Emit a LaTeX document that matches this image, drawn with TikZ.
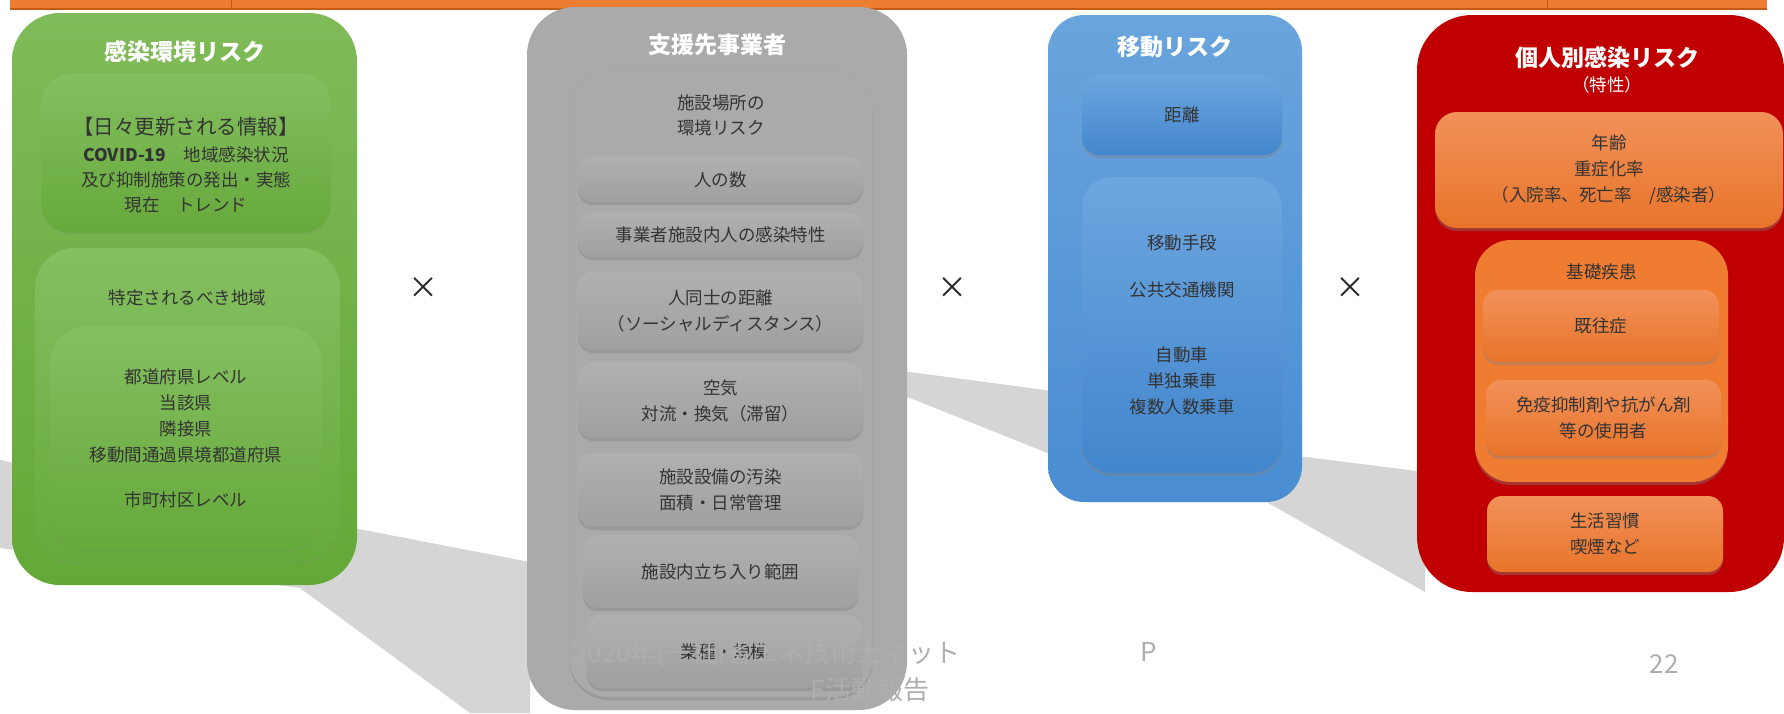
\documentclass[tikz,border=0pt]{standalone}
\usepackage{fontspec}
\setmainfont{Noto Sans CJK JP}
\usetikzlibrary{shadows}

\definecolor{barorange}{HTML}{ED7D31}
\definecolor{bardark}{HTML}{C55A11}
\definecolor{greentop}{HTML}{7FBB58}
\definecolor{greenbot}{HTML}{64A838}
\definecolor{cardgreentop}{HTML}{84BF60}
\definecolor{cardgreenbot}{HTML}{66A93B}
\definecolor{greypanel}{HTML}{AAAAAA}
\definecolor{greytop}{HTML}{B0B0B0}
\definecolor{greybot}{HTML}{A0A0A0}
\definecolor{bluetop}{HTML}{6AA4DD}
\definecolor{bluebot}{HTML}{4A8DD2}
\definecolor{bluecardtop}{HTML}{6DA6DF}
\definecolor{bluecardbot}{HTML}{4286CD}
\definecolor{riskred}{HTML}{C00000}
\definecolor{orangetop}{HTML}{F29159}
\definecolor{orangebot}{HTML}{E8742A}
\definecolor{orangemid}{HTML}{EF7C30}
\definecolor{floorshadow}{HTML}{D5D5D5}
\definecolor{footgrey}{HTML}{AEAEAE}

\begin{document}
\begin{tikzpicture}[x=1pt, y=-1pt,
    panel/.style={rectangle, rounded corners=48pt, inner sep=0pt},
    card/.style={rectangle, rounded corners=15pt, inner sep=0pt, align=center,
        text=black!80, font=\fontsize{17.5}{26}\selectfont,
        drop shadow={shadow xshift=0pt, shadow yshift=-3pt, opacity=0.4}},
    greencard/.style={rectangle, rounded corners=30pt, inner sep=0pt, align=center,
        text=black!80, font=\fontsize{17.5}{26}\selectfont,
        top color=cardgreentop, bottom color=cardgreenbot,
        drop shadow={shadow xshift=0pt, shadow yshift=-2pt, opacity=0.15}},
    greycard/.style={card, top color=greytop, bottom color=greybot},
    bluecard/.style={card, top color=bluecardtop, bottom color=bluecardbot},
    orangecard/.style={card, top color=orangetop, bottom color=orangebot},
    paneltitle/.style={text=white, font=\fontsize{23}{26}\selectfont\bfseries},
    boxtext/.style={align=center, text=black!80, font=\fontsize{17.5}{26}\selectfont},
    crosssign/.style={text=black!85, font=\fontsize{30}{30}\selectfont},
    footer/.style={text=footgrey, font=\fontsize{26}{30}\selectfont}
]
\useasboundingbox (0,0) rectangle (1784,713);

% Draw the orange table edge at the top
\fill[barorange] (10,-4) rectangle (1767,9);
\draw[bardark, line width=1.5pt] (10,9) -- (1767,9);
\draw[bardark, line width=1pt] (231,-4) -- (231,9);
\draw[bardark, line width=1pt] (1547,-4) -- (1547,9);

% Floor shadows behind the panels
\fill[floorshadow] (0,460) -- (530,562) -- (530,713) -- (470,713) -- (300,588) -- (0,548) -- cycle;
\fill[floorshadow] (880,368) -- (1060,392) -- (1060,458) -- (880,386) -- cycle;
\fill[floorshadow] (1290,455) -- (1425,472) -- (1425,592) -- (1263,500) -- cycle;

% Infection environment risk (green)
\node[panel, minimum width=345pt, minimum height=572pt, top color=greentop, bottom color=greenbot] (envpanel) at (184.5,299) {};
\node[paneltitle] (envtitle) at (184.5,52) {感染環境リスク};
\node[greencard, minimum width=290pt, minimum height=159pt] (envdaily) at (186,153.5) {};
\node[boxtext, font=\fontsize{20.5}{26}\selectfont] (envdailyhead) at (186,127) {【日々更新される情報】};
\node[boxtext, font=\fontsize{17.5}{25}\selectfont] (envdailytext) at (186,180) {{\bfseries COVID-19}　地域感染状況\\及び抑制施策の発出・実態\\現在　トレンド};
\node[greencard, rounded corners=40pt, minimum width=305pt, minimum height=314pt] (envregion) at (187.5,405) {};
\node[boxtext] (envregiontext) at (187.5,298) {特定されるべき地域};
\node[greencard, rounded corners=36pt, minimum width=272pt, minimum height=223pt] (envlevel) at (186,438.5) {都道府県レベル\\当該県\\隣接県\\移動間通過県境都道府県\\[19pt]市町村区レベル};

% Supported business (grey)
\node[panel, minimum width=380pt, minimum height=703pt, fill=greypanel] (bizpanel) at (717,358.5) {};
\node[paneltitle] (biztitle) at (717,45) {支援先事業者};
\node[card, rounded corners=40pt, minimum width=304pt, minimum height=627pt, fill=greypanel, draw=black!35, line width=0.6pt] (bizsite) at (721,383.5) {};
\node[boxtext, font=\fontsize{17.5}{25}\selectfont] (bizsitetext) at (721,115.5) {施設場所の\\環境リスク};
\node[greycard, minimum width=285pt, minimum height=45pt] (bizcount) at (720.5,179.5) {人の数};
\node[greycard, minimum width=285pt, minimum height=44pt] (bizprofile) at (720.5,235) {事業者施設内人の感染特性};
\node[greycard, minimum width=285pt, minimum height=78pt] (bizdistance) at (720.5,311) {人同士の距離\\（ソーシャルディスタンス）};
\node[greycard, minimum width=285pt, minimum height=75pt] (bizair) at (720.5,400.5) {空気\\対流・換気（滞留）};
\node[greycard, minimum width=285pt, minimum height=74pt] (bizsurface) at (720.5,490) {施設設備の汚染\\面積・日常管理};
\node[greycard, minimum width=275pt, minimum height=73pt] (bizaccess) at (720.5,571.5) {施設内立ち入り範囲};
\node[greycard, minimum width=275pt, minimum height=73pt] (bizsector) at (724.5,651.5) {業種・規模};

% Movement risk (blue)
\node[panel, rounded corners=36pt, minimum width=254pt, minimum height=487pt, top color=bluetop, bottom color=bluebot] (movepanel) at (1175,258.5) {};
\node[paneltitle] (movetitle) at (1175,47) {移動リスク};
\node[bluecard, rounded corners=18pt, minimum width=200pt, minimum height=80pt] (movedist) at (1182,115) {距離};
\node[bluecard, rounded corners=30pt, minimum width=200pt, minimum height=296pt] (movemeans) at (1182,325) {移動手段\\[21pt]公共交通機関\\[39pt]自動車\\単独乗車\\複数人数乗車};

% Individual infection risk (red)
\node[panel, rounded corners=55pt, minimum width=367pt, minimum height=577pt, fill=riskred] (personpanel) at (1600.5,303.5) {};
\node[paneltitle] (persontitle) at (1607,58) {個人別感染リスク};
\node[boxtext, text=white] (personsub) at (1607,85) {（特性）};
\node[orangecard, rounded corners=22pt, minimum width=348pt, minimum height=116pt] (personage) at (1609,170) {年齢\\重症化率\\（入院率、死亡率　/感染者）};
\node[card, rounded corners=36pt, minimum width=253pt, minimum height=242pt, fill=orangemid] (personbase) at (1601.5,361) {};
\node[boxtext] (personbasetext) at (1601.5,272) {基礎疾患};
\node[orangecard, minimum width=236pt, minimum height=72pt] (personhistory) at (1601,326) {既往症};
\node[orangecard, minimum width=235pt, minimum height=76pt] (personimmune) at (1603.5,418) {免疫抑制剤や抗がん剤\\等の使用者};
\node[orangecard, minimum width=236pt, minimum height=76pt] (personhabit) at (1605,534) {生活習慣\\喫煙など};

% Multiplication signs between the panels
\node[crosssign] (times1) at (423,288) {×};
\node[crosssign] (times2) at (952,288) {×};
\node[crosssign] (times3) at (1350,288) {×};

% Footer of the slide
\node[footer, anchor=west, inner sep=0pt] (footer) at (573,654) {2020年(一社)省エネ技術士ネット};
\node[footer] (footerp) at (1149,652) {P};
\node[footer] (footerf) at (870,690) {F活動報告};
\node[footer] (pagenum) at (1664,664) {22};

\end{tikzpicture}
\end{document}
